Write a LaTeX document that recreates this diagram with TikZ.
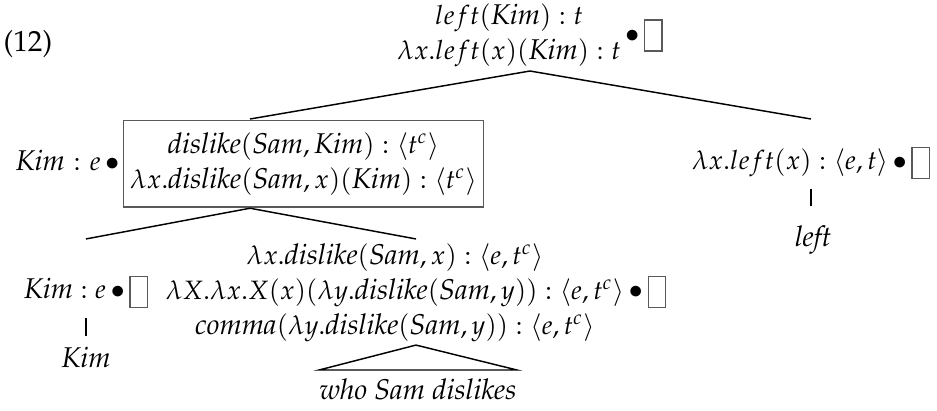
\documentclass[tikz,border=0pt]{standalone}
\usepackage[T1]{fontenc}
\usepackage{mathpazo}
\usetikzlibrary{calc}
\definecolor{frame}{gray}{0.35}
\newcommand\w[1]{\mbox{\fontsize{9.8}{12}\selectfont\itshape #1}}
\newcommand\bul{\mkern3mu{\bullet}\mkern3mu}
\newcommand\emptybox{\vcenter{\hbox{\setlength\fboxsep{0pt}\setlength\fboxrule{0.5pt}\fcolorbox{frame}{white}{\rule{0pt}{10.2pt}\hspace{5.4pt}}}}}
\newcommand\lines[1]{\begin{array}{@{}c@{}}#1\end{array}}
\newcommand\framed[1]{\mbox{\setlength\fboxsep{1.6pt}\setlength\fboxrule{0.5pt}\fcolorbox{frame}{white}{$#1$}}}
\begin{document}
\begin{tikzpicture}[x=0.343pt,y=-0.343pt,
  tn/.style={inner sep=0pt, font=\fontsize{9.1}{12}\selectfont},
  leaf/.style={inner xsep=0pt, inner ysep=3.5pt, font=\fontsize{9.8}{12}\selectfont\itshape},
  br/.style={line width=0.5pt}]
\useasboundingbox (0,0) rectangle (937,410);
\node[inner sep=0pt, font=\fontsize{10}{12}\selectfont] (ex) at (28,44) {(12)};
\node[tn, anchor=south] (root) at (530,71)
  {$\lines{left(\w{Kim}) : t\\ \lambda x.left(x)(\w{Kim}) : t}\bul\emptybox$};
\node[tn, anchor=north] (dis) at (250,119)
  {$\w{Kim}\mkern1mu : \mkern1mu e \bul\mkern-1mu\framed{\hspace{0.5pt}\lines{\rule{0pt}{9.4pt}\w{dislike}(\w{Sam}, \w{Kim}) : \langle t^c\rangle\\ \lambda x.\w{dislike}(\w{Sam}, x)(\w{Kim}) : \langle t^c\rangle\rule[-4.6pt]{0pt}{4.6pt}}\hspace{0.5pt}}$};
\node[tn] (lft) at (811,163) {$\lambda x.left(x) : \langle e, t\rangle \bul\emptybox$};
\node[leaf, anchor=base] (left) at (813,246) {left};
\node[tn] (mid) at (416,292)
  {$\lines{\lambda x.\w{dislike}(\w{Sam}, x) : \langle e, t^c\rangle\\ \lambda X.\lambda x.X(x)(\lambda y.\w{dislike}(\w{Sam}, y)) : \langle e, t^c\rangle\\ \w{comma}(\lambda y.\w{dislike}(\w{Sam}, y)) : \langle e, t^c\rangle}\bul\emptybox$};
\node[tn] (kim2) at (86,292) {$\w{Kim} : e \bul\emptybox$};
\node[leaf, anchor=north] (kim3) at (86,336) {Kim};
\node[leaf, anchor=north, inner ysep=0pt] (who) at (418,378) {who Sam dislikes};
\coordinate (whoL) at ($(who.north west)+(0,-8)$);
\coordinate (whoR) at ($(who.north east)+(0,-8)$);
\draw[br] (root.south) -- (dis.north);
\draw[br] (root.south) -- (lft.north |- dis.north);
\draw[br] (dis.south) -- (kim2.north |- mid.north);
\draw[br] (dis.south) -- (mid.north);
\draw[br, shorten <=3pt, shorten >=3pt] (lft.south) -- (lft.south |- left.north);
\draw[br, shorten <=3pt] (kim2.south) -- (kim2.south |- kim3.north);
\draw[br] (mid.south) -- (whoL) -- (whoR) -- cycle;
\end{tikzpicture}
\end{document}
